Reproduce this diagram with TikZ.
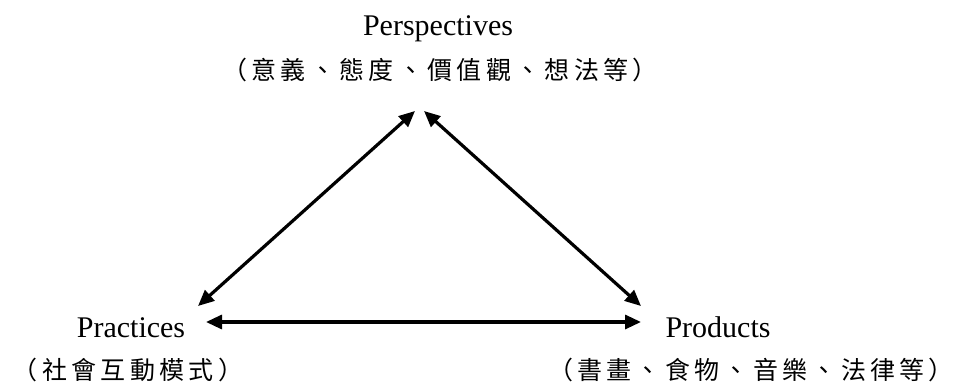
\documentclass[tikz,border=0pt]{standalone}
\usepackage{fontspec}
\setmainfont{Liberation Serif}
\newfontfamily\cjk{Noto Sans CJK TC}
\usetikzlibrary{arrows.meta}
\makeatletter
\newcommand\spreadcj[1]{\@tfor\sc@c:=#1\do{\makebox[29.3pt]{\sc@c}}}
\makeatother
\tikzset{
  lat/.style={inner sep=0pt, anchor=base, font=\fontsize{30}{30}\selectfont},
  cjl/.style={inner sep=0pt, anchor=center, font=\cjk\fontsize{25}{25}\selectfont},
  arr/.style={line width=3.2pt, {Triangle[length=16pt,width=14pt]}-{Triangle[length=16pt,width=14pt]}}
}
\begin{document}
\begin{tikzpicture}[x=1pt,y=-1pt]
\useasboundingbox (0,0) rectangle (957,385);
\node[lat] (persp) at (438,36) {Perspectives};
\node[cjl] (perspc) at (440,70) {\spreadcj{（意義、態度、價值觀、想法等）}};
\node[lat] (pract) at (131,337) {Practices};
\node[cjl] (practc) at (128,370) {\spreadcj{（社會互動模式）}};
\node[lat] (prod) at (718,337) {Products};
\node[cjl] (prodc) at (751,370) {\spreadcj{（書畫、食物、音樂、法律等）}};
\coordinate (tl) at (415,111);
\coordinate (tr) at (424,111);
\coordinate (bl) at (198,306);
\coordinate (br) at (641,306);
\coordinate (hl) at (206,322);
\coordinate (hr) at (641,322);
\draw[arr] (tl) -- (bl);
\draw[arr] (tr) -- (br);
\draw[arr] (hl) -- (hr);
\end{tikzpicture}
\end{document}
